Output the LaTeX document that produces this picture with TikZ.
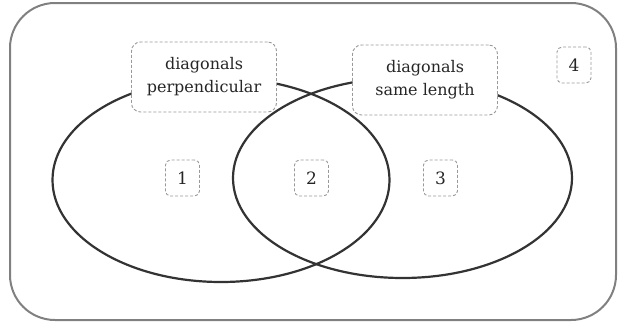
\documentclass[tikz,border=0pt]{standalone}
\usepackage{fontspec}
\setmainfont{DejaVu Serif}
\usetikzlibrary{shapes.geometric}
\usetikzlibrary{positioning}

\begin{document}
\begin{tikzpicture}[x=1pt,y=-1pt,
            font=\fontsize{16}{23}\selectfont,
            text=black!85,
            set/.style = {draw=black!80,line width=2.2pt,ellipse,inner sep=0pt},
            prop/.style = {draw=black!40,dash pattern=on 3pt off 2pt,line width=0.9pt,
                rounded corners=9pt,fill=white,align=center,
                minimum width=145pt,minimum height=70pt},
            region/.style = {draw=black!40,dash pattern=on 3pt off 2pt,line width=0.9pt,
                rounded corners=5pt,fill=white,inner sep=0pt,
                font=\fontsize{17}{20}\selectfont,
                minimum width=34pt,minimum height=36pt}]
            \useasboundingbox (0,0) rectangle (619,324);
            \draw[black!50,line width=2pt,rounded corners=45pt] (10,3) rectangle (616,320);
            % the two sets
            \node[set,minimum width=337pt,minimum height=204pt] (perp) at (221,180) {};
            \node[set,minimum width=339pt,minimum height=200pt] (same) at (402.5,178) {};
            % property labels
            \node[prop] (perplabel) at (204,77) {diagonals\\perpendicular};
            \node[prop] (samelabel) at (425,80) {diagonals\\same length};
            % regions
            \node[region] (r1) at (182.5,178) {1};
            \node[region] (r2) at (311.5,178) {2};
            \node[region] (r3) at (440.5,178) {3};
            \node[region] (r4) at (574,65) {4};
        \end{tikzpicture}
\end{document}
